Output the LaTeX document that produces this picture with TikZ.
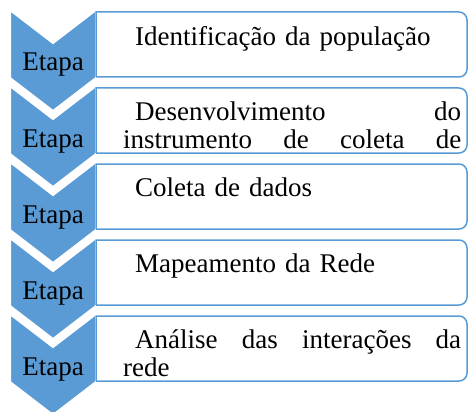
\documentclass[tikz,border=0pt]{standalone}
\usepackage{fontspec}
\setmainfont{Liberation Serif}
\definecolor{stageblue}{HTML}{5B9BD5}
\tikzset{
  chevron/.style={fill=stageblue, draw=white, line width=2pt, line join=miter},
  stagebox/.style={draw=stageblue, line width=1.5pt, fill=white},
  stagelabel/.style={anchor=base, inner sep=0pt, font=\fontsize{27}{28}\selectfont},
  stagetext/.style={anchor=north west, inner sep=0pt, text width=338pt, align=left,
    font=\fontsize{27}{28}\selectfont}
}
\begin{document}
\begin{tikzpicture}[x=1pt,y=-1pt]
  \useasboundingbox (0,0) rectangle (469,412);

  % Chevrons on the left, each one laid over the tip of the one above
  \foreach \k in {0,...,4} {
    \pgfmathsetmacro{\c}{10+76*\k}
    \draw[chevron] (10,\c) -- (53,\c+33) -- (96,\c) -- (96,\c+68)
      -- (53,\c+101) -- (10,\c+68) -- cycle;
    \node[stagelabel] (etapa\k) at (53,\c+61) {Etapa};
  }

  % Boxes on the right, rounded on the right side only
  \foreach \k in {0,...,4} {
    \pgfmathsetmacro{\b}{12+76*\k}
    \draw[stagebox] (96,\b+65) -- (96,\b) [rounded corners=8pt] -- (467,\b)
      -- (467,\b+65) -- (96,\b+65);
    \coordinate (top\k) at (123,\b+14);
  }

  % Texts of the stages
  \node[stagetext] (desc0) at (top0) {\hspace*{12pt}Identificação da população};
  \node[stagetext] (desc1) at (top1) {\hspace*{12pt}Desenvolvimento\hfill do\\
    instrumento\hfill de\hfill coleta\hfill de};
  \node[stagetext] (desc2) at (top2) {\hspace*{12pt}Coleta de dados};
  \node[stagetext] (desc3) at (top3) {\hspace*{12pt}Mapeamento da Rede};
  \node[stagetext] (desc4) at (top4) {\hspace*{12pt}Análise\hfill das\hfill interações\hfill da\\
    rede};
\end{tikzpicture}
\end{document}
